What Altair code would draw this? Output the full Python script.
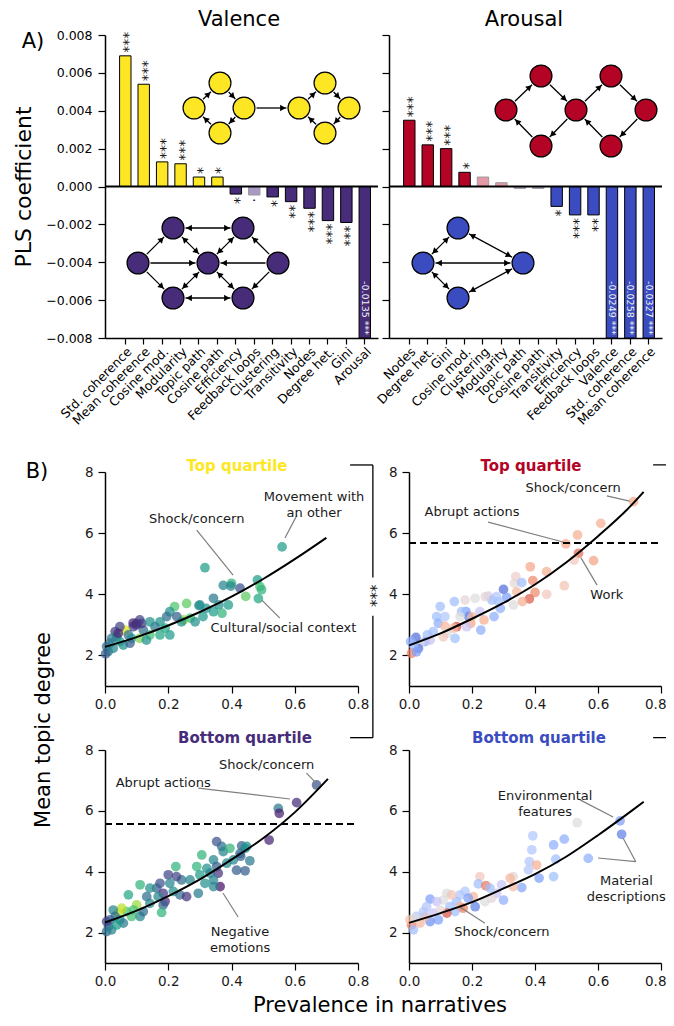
import math
import altair as alt
import pandas as pd

FONT = "DejaVu Sans"
INK = "#1a1a1a"
W, H = 658, 1010          # one drawing area; panels are placed through explicit scale ranges

# ---------------- Panel A: PLS coefficients ----------------
val_labels = ["Std. coherence", "Mean coherence", "Cosine mod.", "Modularity", "Topic path",
              "Cosine path", "Efficiency", "Feedback loops", "Clustering", "Transitivity",
              "Nodes", "Degree het.", "Gini", "Arousal"]
val_values = [0.0069, 0.0054, 0.0013, 0.0012, 0.0005, 0.0005, -0.0004, -0.00045,
              -0.00055, -0.0008, -0.00115, -0.0018, -0.0019, -0.0135]
val_sig = ["***", "***", "***", "***", "*", "*", "*", ".", "*", "**", "***", "***", "***", "***"]

aro_labels = ["Nodes", "Degree het.", "Gini", "Cosine mod.", "Clustering", "Modularity",
              "Topic path", "Cosine path", "Transitivity", "Efficiency", "Feedback loops",
              "Valence", "Std. coherence", "Mean coherence"]
aro_values = [0.0035, 0.0022, 0.0020, 0.00075, 0.0005, 0.0002, -0.0001, -0.0001,
              -0.00105, -0.0015, -0.0015, -0.0249, -0.0258, -0.0327]
aro_sig = ["***", "***", "***", "*", "", "", "", "", "*", "***", "**", "***", "***", "***"]

y_ticks = [-0.008, -0.006, -0.004, -0.002, 0.0, 0.002, 0.004, 0.006, 0.008]
Y_MIN, Y_MAX = -0.008, 0.008

VAL_POS, VAL_NEG, VAL_POS_F, VAL_NEG_F = "#FDE725", "#472C7A", "#FEF3A0", "#A99AC4"
ARO_POS, ARO_NEG, ARO_POS_F, ARO_NEG_F = "#B40426", "#3B4CC0", "#E39AA6", "#A7B0E2"

A_W, A_H = 273, 303

# schematic network diagrams (node positions inside a bar panel, y downward)
yellow_nodes = {"a1": (89, 73), "b1": (115, 48), "c1": (139, 73), "d1": (115, 98),
                "a2": (194, 73), "b2": (220, 48), "c2": (244, 73), "d2": (220, 98)}
yellow_edges = [("a1", "b1", 0), ("b1", "c1", 0), ("c1", "d1", 0), ("d1", "a1", 0),
                ("a2", "b2", 0), ("b2", "c2", 0), ("c2", "d2", 0), ("d2", "a2", 0),
                ("c1", "a2", 0)]
purple_nodes = {"tl": (68, 193), "tr": (138, 193), "l": (33, 228), "c": (103, 228),
                "r": (173, 228), "bl": (68, 263), "br": (138, 263)}
purple_edges = [("tl", "tr", 1), ("l", "tl", 0), ("l", "c", 0), ("l", "bl", 0),
                ("tl", "c", 1), ("tr", "c", 1), ("r", "tr", 0), ("r", "c", 0),
                ("r", "br", 0), ("bl", "c", 1), ("c", "br", 1), ("bl", "br", 1)]
red_nodes = {"a": (117, 75), "t1": (152, 41), "m": (187, 75), "b1": (152, 111),
             "t2": (222, 41), "z": (257, 75), "b2": (222, 111)}
red_edges = [("a", "t1", 0), ("t1", "m", 0), ("m", "b1", 0), ("b1", "a", 0),
             ("m", "t2", 0), ("t2", "z", 0), ("z", "b2", 0), ("b2", "m", 0)]
blue_nodes = {"t": (69, 193), "l": (34, 228), "r": (134, 228), "b": (69, 263)}
blue_edges = [("t", "l", 1), ("t", "r", 1), ("l", "r", 1), ("l", "b", 1), ("b", "r", 1)]

# ---------------- Panel B: scatter data ----------------
tl_x = [0.316, 0.374, 0.400, 0.427, 0.482, 0.490, 0.495, 0.485, 0.445, 0.390,
        0.360, 0.343, 0.300, 0.320, 0.258, 0.220, 0.205, 0.248, 0.270, 0.285,
        0.310, 0.343, 0.370, 0.195, 0.174, 0.190, 0.205, 0.174, 0.142, 0.158,
        0.121, 0.116, 0.100, 0.089, 0.110, 0.063, 0.047, 0.032, 0.037, 0.074,
        0.084, 0.110, 0.131, 0.047, 0.016, 0.005, 0.010, 0.002, 0.026, 0.058,
        0.079, 0.021, 0.042, 0.142, 0.227, 0.242, 0.560, 0.089, 0.100, 0.398,
        0.297]
tl_y = [4.87, 4.29, 4.36, 4.20, 4.47, 4.25, 4.15, 3.86, 3.93, 3.65,
        3.65, 3.87, 3.65, 3.54, 3.70, 3.60, 3.43, 3.16, 3.22, 3.10,
        3.27, 3.43, 3.38, 3.27, 3.10, 2.89, 2.67, 2.67, 2.67, 2.94,
        2.83, 3.05, 3.05, 2.94, 3.16, 2.83, 2.94, 2.78, 2.61, 2.67,
        2.56, 2.56, 2.50, 2.45, 2.40, 2.29, 2.13, 2.05, 2.23, 2.34,
        2.40, 2.56, 2.72, 3.10, 3.27, 3.10, 5.55, 3.06, 3.00, 4.27,
        3.63]
tl_c = [0.55, 0.45, 0.65, 0.25, 0.55, 0.70, 0.65, 0.60, 0.75, 0.55,
        0.50, 0.40, 0.45, 0.50, 0.75, 0.72, 0.50, 0.85, 0.70, 0.50,
        0.55, 0.55, 0.65, 0.35, 0.50, 0.60, 0.55, 0.60, 0.70, 0.40,
        0.35, 0.15, 0.12, 0.18, 0.20, 0.95, 0.20, 0.18, 0.45, 0.35,
        0.50, 0.80, 0.50, 0.50, 0.40, 0.35, 0.40, 0.30, 0.45, 0.50,
        0.30, 0.40, 0.10, 0.50, 0.30, 0.50, 0.55, 0.10, 0.15, 0.45,
        0.50]

tr_x = [0.713, 0.609, 0.535, 0.498, 0.538, 0.524, 0.586, 0.385, 0.437, 0.493,
        0.437, 0.393, 0.400, 0.382, 0.360, 0.339, 0.335, 0.358, 0.300, 0.332,
        0.342, 0.310, 0.284, 0.290, 0.270, 0.252, 0.263, 0.242, 0.278, 0.238,
        0.228, 0.178, 0.144, 0.181, 0.189, 0.167, 0.196, 0.183, 0.162, 0.151,
        0.141, 0.146, 0.099, 0.088, 0.114, 0.093, 0.114, 0.120, 0.109, 0.077,
        0.058, 0.051, 0.067, 0.035, 0.022, 0.030, 0.014, 0.008, 0.024, 0.005,
        0.210, 0.225, 0.200]
tr_y = [7.03, 6.32, 5.94, 5.65, 5.34, 5.12, 5.10, 4.90, 4.74, 4.28,
        4.00, 4.45, 4.06, 3.85, 3.76, 4.58, 4.36, 4.38, 4.16, 3.65,
        4.08, 3.90, 3.76, 3.54, 3.27, 3.94, 3.81, 3.92, 3.92, 3.16,
        2.83, 3.81, 3.76, 3.43, 3.27, 3.43, 3.05, 2.94, 3.27, 2.94,
        2.89, 2.56, 3.60, 3.27, 3.27, 3.05, 2.96, 2.72, 2.61, 2.78,
        2.67, 2.45, 2.50, 2.40, 2.59, 2.23, 2.34, 2.07, 2.12, 2.45,
        3.87, 3.43, 3.27]
tr_c = [0.70, 0.68, 0.68, 0.70, 0.85, 0.58, 0.72, 0.70, 0.68, 0.60,
        0.58, 0.78, 0.78, 0.88, 0.68, 0.55, 0.52, 0.35, 0.10, 0.50,
        0.65, 0.25, 0.35, 0.30, 0.30, 0.42, 0.35, 0.48, 0.38, 0.68,
        0.30, 0.48, 0.35, 0.25, 0.15, 0.35, 0.70, 0.40, 0.50, 0.90,
        0.62, 0.35, 0.35, 0.35, 0.38, 0.30, 0.65, 0.50, 0.58, 0.35,
        0.35, 0.30, 0.40, 0.50, 0.10, 0.12, 0.35, 0.80, 0.25, 0.30,
        0.50, 0.40, 0.65]

bl_x = [0.669, 0.606, 0.548, 0.551, 0.519, 0.353, 0.369, 0.374, 0.395, 0.427,
        0.432, 0.443, 0.448, 0.429, 0.416, 0.443, 0.458, 0.406, 0.385, 0.343,
        0.353, 0.306, 0.322, 0.290, 0.300, 0.332, 0.358, 0.343, 0.364, 0.343,
        0.316, 0.295, 0.269, 0.242, 0.224, 0.226, 0.200, 0.205, 0.216, 0.237,
        0.258, 0.174, 0.163, 0.184, 0.168, 0.190, 0.184, 0.179, 0.142, 0.111,
        0.074, 0.132, 0.142, 0.100, 0.090, 0.068, 0.053, 0.042, 0.084, 0.111,
        0.121, 0.026, 0.032, 0.016, 0.011, 0.005, 0.021, 0.047, 0.058, 0.005,
        0.037]
bl_y = [6.85, 6.27, 6.08, 5.92, 5.04, 4.99, 4.83, 4.66, 4.77, 4.60,
        4.85, 4.77, 4.83, 4.51, 4.05, 4.03, 4.36, 4.39, 4.28, 4.39,
        4.17, 4.55, 4.11, 4.17, 3.90, 3.95, 3.95, 3.73, 3.51, 3.51,
        3.62, 3.29, 3.73, 3.73, 4.17, 3.84, 3.90, 3.62, 3.35, 3.24,
        3.18, 3.62, 3.46, 3.29, 3.18, 3.02, 2.91, 2.66, 3.46, 3.57,
        3.24, 3.18, 2.96, 2.91, 2.74, 2.69, 2.80, 2.64, 2.53, 2.53,
        2.69, 2.74, 2.53, 2.42, 2.20, 2.03, 2.09, 2.42, 2.31, 2.36,
        2.25]
bl_c = [0.25, 0.12, 0.40, 0.08, 0.10, 0.25, 0.35, 0.45, 0.65, 0.35,
        0.30, 0.45, 0.50, 0.30, 0.30, 0.30, 0.40, 0.45, 0.45, 0.45,
        0.30, 0.65, 0.50, 0.65, 0.55, 0.45, 0.15, 0.45, 0.05, 0.45,
        0.50, 0.40, 0.45, 0.35, 0.65, 0.20, 0.20, 0.45, 0.50, 0.35,
        0.15, 0.25, 0.30, 0.15, 0.45, 0.12, 0.30, 0.65, 0.50, 0.65,
        0.60, 0.35, 0.45, 0.85, 0.70, 0.70, 0.90, 0.92, 0.70, 0.45,
        0.35, 0.45, 0.35, 0.30, 0.30, 0.35, 0.45, 0.50, 0.40, 0.20,
        0.55]

br_x = [0.670, 0.675, 0.569, 0.534, 0.393, 0.493, 0.459, 0.390, 0.466, 0.459,
        0.382, 0.405, 0.379, 0.413, 0.358, 0.331, 0.321, 0.331, 0.225, 0.220,
        0.244, 0.257, 0.278, 0.294, 0.300, 0.262, 0.241, 0.204, 0.178, 0.162,
        0.188, 0.210, 0.151, 0.120, 0.135, 0.109, 0.067, 0.088, 0.130, 0.162,
        0.172, 0.146, 0.120, 0.093, 0.067, 0.051, 0.035, 0.046, 0.077, 0.024,
        0.008, 0.014, 0.003, 0.019, 0.099, 0.056]
br_y = [5.67, 5.23, 4.44, 5.61, 5.18, 5.07, 4.88, 4.72, 4.41, 3.84,
        4.33, 4.22, 4.06, 3.79, 3.48, 3.84, 3.79, 3.51, 3.84, 3.60,
        3.54, 3.46, 3.29, 3.57, 3.07, 3.13, 3.02, 3.18, 3.35, 3.24,
        3.13, 2.85, 3.02, 3.29, 3.24, 3.07, 3.10, 3.02, 2.85, 2.85,
        2.80, 2.69, 2.64, 2.42, 2.36, 2.53, 2.31, 2.69, 2.64, 2.53,
        2.25, 2.09, 2.42, 2.47, 2.74, 2.85]
br_c = [0.25, 0.15, 0.30, 0.50, 0.38, 0.30, 0.30, 0.38, 0.35, 0.35,
        0.38, 0.68, 0.38, 0.25, 0.28, 0.48, 0.65, 0.65, 0.58, 0.35,
        0.82, 0.35, 0.40, 0.40, 0.30, 0.48, 0.50, 0.65, 0.38, 0.38,
        0.25, 0.15, 0.35, 0.50, 0.60, 0.50, 0.25, 0.40, 0.35, 0.65,
        0.80, 0.35, 0.90, 0.25, 0.20, 0.65, 0.65, 0.38, 0.40, 0.38,
        0.80, 0.35, 0.62, 0.50, 0.48, 0.38]

# fitted curves
tl_curve_x = [0.0, 0.1, 0.2, 0.3, 0.4, 0.5, 0.6, 0.7]
tl_curve_y = [2.28, 2.60, 2.98, 3.42, 3.92, 4.50, 5.15, 5.85]
tr_curve_x = [0.0, 0.1, 0.2, 0.3, 0.4, 0.5, 0.6, 0.7, 0.745]
tr_curve_y = [2.33, 2.72, 3.20, 3.72, 4.32, 5.05, 5.90, 6.85, 7.35]
bl_curve_x = [0.0, 0.1, 0.2, 0.3, 0.4, 0.5, 0.6, 0.705]
bl_curve_y = [2.33, 2.72, 3.20, 3.75, 4.40, 5.10, 5.95, 7.05]
br_curve_x = [0.0, 0.1, 0.2, 0.3, 0.4, 0.5, 0.6, 0.7, 0.745]
br_curve_y = [2.32, 2.64, 3.00, 3.45, 3.92, 4.50, 5.20, 5.95, 6.30]

tr_threshold = 5.68
bl_threshold = 5.57

# annotations: text, x, y   /   leader lines: x, y, x2, y2
tl_notes = [("Movement with\nan other", 0.661, 7.17), ("Shock/concern", 0.29, 6.46),
            ("Cultural/social context", 0.564, 2.90)]
tl_leaders = [(0.607, 6.59, 0.569, 5.84), (0.29, 6.10, 0.405, 4.63), (0.496, 3.81, 0.553, 3.22)]
tr_notes = [("Shock/concern", 0.521, 7.48), ("Abrupt actions", 0.20, 6.69), ("Work", 0.628, 3.98)]
tr_leaders = [(0.628, 7.22, 0.70, 7.05), (0.251, 6.36, 0.489, 5.71), (0.546, 5.19, 0.597, 4.30)]
bl_notes = [("Shock/concern", 0.511, 7.51), ("Abrupt actions", 0.184, 6.92),
            ("Negative\nemotions", 0.427, 2.02)]
bl_leaders = [(0.637, 7.24, 0.664, 6.95), (0.295, 6.75, 0.585, 6.39), (0.373, 3.30, 0.421, 2.51)]
br_notes = [("Environmental\nfeatures", 0.432, 6.48), ("Material\ndescriptions", 0.69, 3.70),
            ("Shock/concern", 0.295, 2.02)]
br_leaders = [(0.543, 6.36, 0.648, 5.80), (0.72, 4.33, 0.68, 5.10), (0.72, 4.33, 0.60, 4.45),
              (0.241, 2.31, 0.162, 2.84)]

# significance bracket between the two valence panels (data units of the top-left panel)
bracket_x = [0.775, 0.847]
bracket_top, bracket_bottom = 8.23, -0.69
bracket_gap = (4.55, 3.30)
bracket_star_y = 3.95

# ---------------- panel frames inside the drawing area (pixels) ----------------
A_LEFT_X = [97, 370]
A_RIGHT_X = [381, 654]
A_Y = [330, 27]
B_LEFT_X = [97, 350]
B_RIGHT_X = [401, 653]
B_TOP_Y = [678, 464]
B_BOT_Y = [955, 742]


# ======================= builders =======================
def network_layers(nodes, edges, color, xr):
    R, HD = 12.5, 3.6
    nx_scale = alt.Scale(domain=[0, A_W], range=xr, nice=False, zero=False)
    ny_scale = alt.Scale(domain=[0, A_H], range=[A_Y[1], A_Y[0]], nice=False, zero=False)
    seg = {"nx": [], "ny": [], "nx2": [], "ny2": []}
    head = {"nx": [], "ny": [], "ang": []}
    for s, t, both in edges:
        x1, y1 = nodes[s]
        x2, y2 = nodes[t]
        d = math.hypot(x2 - x1, y2 - y1)
        ux, uy = (x2 - x1) / d, (y2 - y1) / d
        seg["nx"].append(x1 + ux * R)
        seg["ny"].append(y1 + uy * R)
        seg["nx2"].append(x2 - ux * R)
        seg["ny2"].append(y2 - uy * R)
        head["nx"].append(x2 - ux * (R + HD))
        head["ny"].append(y2 - uy * (R + HD))
        head["ang"].append(math.degrees(math.atan2(ux, -uy)) % 360)
        if both:
            head["nx"].append(x1 + ux * (R + HD))
            head["ny"].append(y1 + uy * (R + HD))
            head["ang"].append(math.degrees(math.atan2(-ux, uy)) % 360)
    node_df = pd.DataFrame({"nx": [p[0] for p in nodes.values()],
                            "ny": [p[1] for p in nodes.values()]})
    NX = alt.X("nx:Q", scale=nx_scale, axis=None)
    NY = alt.Y("ny:Q", scale=ny_scale, axis=None)
    lines = alt.Chart(pd.DataFrame(seg)).mark_rule(color="black", strokeWidth=1.3).encode(
        x=NX, y=NY, x2="nx2:Q", y2="ny2:Q")
    heads = alt.Chart(pd.DataFrame(head)).mark_point(
        shape="triangle-up", filled=True, color="black", size=42, opacity=1).encode(
        x=NX, y=NY, angle=alt.Angle("ang:Q", scale=None))
    circles = alt.Chart(node_df).mark_circle(
        size=480, color=color, stroke="black", strokeWidth=1.2, opacity=1).encode(x=NX, y=NY)
    return [lines, heads, circles]


def bar_panel(labels, values, sig, cols, xr, left, nets):
    pos_c, neg_c, pos_f, neg_f = cols
    df = pd.DataFrame({"label": labels, "value": values, "sig": sig})
    faded = df["sig"].isin(["", "."])
    df["fill"] = [(pos_f if v > 0 else neg_f) if f else (pos_c if v > 0 else neg_c)
                  for v, f in zip(df["value"], faded)]
    df["stroke"] = ["#9a9a9a" if f else "black" for f in faded]
    df["clipped"] = df["value"] < Y_MIN
    df["cliptext"] = [f"{v:.4f} {s}" for v, s in zip(df["value"], df["sig"])]

    xsc = alt.Scale(domain=labels, range=xr, paddingInner=0.38, paddingOuter=0.6, align=0.66)
    ysc = alt.Scale(domain=[Y_MIN, Y_MAX], range=A_Y, nice=False, clamp=True)
    xaxis = alt.Axis(title=None, orient="bottom", offset=A_Y[0] - H, labelAngle=-45,
                     labelAlign="right", labelBaseline="top", labelFontSize=12.5, tickSize=6,
                     labelPadding=1, domainWidth=1.5, tickWidth=1.2, bandPosition=0.5,
                     labelOverlap=False, labelColor="black")
    if left:
        yaxis = alt.Axis(title="PLS coefficient", orient="left", offset=-xr[0], values=y_ticks,
                         format=".3f", tickSize=7, labelPadding=6, labelFontSize=12.5,
                         titleFontSize=22, titleFontWeight="normal", titlePadding=10,
                         domainWidth=1.5, tickWidth=1.2, labelOverlap=False, labelColor="black")
    else:
        yaxis = alt.Axis(title=None, orient="left", offset=-xr[0], values=y_ticks, labels=False,
                         tickSize=7, domainWidth=1.5, tickWidth=1.2)
    X = alt.X("label:N", scale=xsc, axis=xaxis)
    Y = alt.Y("value:Q", scale=ysc, axis=yaxis)
    layers = [
        alt.Chart(df).mark_bar(strokeWidth=1).encode(
            x=X, y=Y, fill=alt.Fill("fill:N", scale=None), stroke=alt.Stroke("stroke:N", scale=None)),
        alt.Chart(pd.DataFrame({"label": [labels[0]], "value": [0.0]})).mark_rule(
            color="black", strokeWidth=1.8).encode(
            x=alt.value(xr[0]), x2=alt.value(xr[1]), y=Y),
    ]
    pos = df[(df["value"] > 0) & (df["sig"] != "")]
    neg = df[(df["value"] < 0) & df["sig"].isin(["*", "**", "***"]) & (~df["clipped"])]
    dots = df[df["sig"] == "."]
    clip = df[df["clipped"]]
    layers.append(alt.Chart(pos).mark_text(angle=270, align="left", baseline="middle", dx=3,
                                            dy=4, fontSize=14, color=INK).encode(
        x=X, y=Y, text="sig:N"))
    if len(neg):
        layers.append(alt.Chart(neg).mark_text(angle=270, align="right", baseline="middle",
                                                dx=-3, dy=4, fontSize=14, color=INK).encode(
            x=X, y=Y, text="sig:N"))
    if len(dots):
        layers.append(alt.Chart(dots).mark_text(angle=270, align="right", baseline="middle",
                                                 dx=-3, dy=-3, fontSize=14, color=INK).encode(
            x=X, y=Y, text="sig:N"))
    if len(clip):
        layers.append(alt.Chart(clip).mark_text(angle=90, align="right", baseline="middle",
                                                 dx=-3, fontSize=9.5, color="#f2f2f2").encode(
            x=X, y=Y, text="cliptext:N"))
    net = []
    for n in nets:
        net += network_layers(*n, xr)
    return alt.layer(alt.layer(*layers), alt.layer(*net)).resolve_scale(
        x="independent", y="independent")


VIRIDIS = alt.Scale(scheme="viridis", domain=[0, 1])
COOLWARM = alt.Scale(domain=[0, 0.125, 0.25, 0.375, 0.5, 0.625, 0.75, 0.875, 1.0],
                     range=["#3b4cc0", "#5977e3", "#7b9ff9", "#a9c6fd", "#dddcdc",
                            "#f5bfa5", "#f4987a", "#de604d", "#b40426"])


def scatter_panel(xs, ys, cs, cscale, cx, cy, notes, leaders, xr, yr, threshold=None,
                  extra=None, edge=False):
    SX = alt.Scale(domain=[0, 0.8], range=xr, nice=False, zero=False)
    SY = alt.Scale(domain=[1, 8], range=yr, nice=False, zero=False)
    xkw = {}
    if edge:   # keep the last tick label inside the drawing area
        xkw = {"labelAlign": alt.condition("datum.value >= 0.79", alt.value("right"), alt.value("center")),
               "labelOffset": alt.condition("datum.value >= 0.79", alt.value(5), alt.value(0))}
    xaxis = alt.Axis(values=[0, 0.2, 0.4, 0.6, 0.8], format=".1f", title=None, orient="bottom",
                     offset=yr[0] - H, tickSize=7, labelPadding=4, labelFontSize=13.5,
                     domainWidth=1.5, tickWidth=1.2, labelFlush=False, labelOverlap=False,
                     labelColor=INK, **xkw)
    yaxis = alt.Axis(values=[2, 4, 6, 8], format="d", title=None, orient="left", offset=-xr[0],
                     tickSize=7, labelPadding=5, labelFontSize=13.5, domainWidth=1.5,
                     tickWidth=1.2, labelOverlap=False, labelColor=INK)
    X = alt.X("x:Q", scale=SX, axis=xaxis)
    Y = alt.Y("y:Q", scale=SY, axis=yaxis)
    pts = alt.Chart(pd.DataFrame({"x": xs, "y": ys, "c": cs})).mark_circle(
        size=95, opacity=0.72).encode(x=X, y=Y, color=alt.Color("c:Q", scale=cscale, legend=None))
    lead = alt.Chart(pd.DataFrame(leaders, columns=["x", "y", "x2", "y2"])).mark_rule(
        color="#7f7f7f", strokeWidth=1.2).encode(x=X, y=Y, x2="x2:Q", y2="y2:Q")
    curve = alt.Chart(pd.DataFrame({"x": cx, "y": cy})).mark_line(
        color="black", strokeWidth=2, interpolate="monotone").encode(x=X, y=Y)
    txt = alt.Chart(pd.DataFrame(notes, columns=["t", "x", "y"])).mark_text(
        fontSize=13, lineBreak="\n", lineHeight=16, color=INK, baseline="middle").encode(
        x=X, y=Y, text="t:N")
    layers = [pts, lead, curve]
    if threshold is not None:
        layers.append(alt.Chart(pd.DataFrame({"x": [0.0], "x2": [0.8], "y": [threshold]})).mark_rule(
            color="black", strokeWidth=2, strokeDash=[7, 4]).encode(x=X, x2="x2:Q", y=Y))
    layers.append(txt)
    if extra is not None:
        layers += extra(X, Y)
    return alt.layer(*layers)


def free_text(text, px, py, size, angle=0, bold=False, color="black", baseline="middle"):
    return alt.Chart(pd.DataFrame({"t": [text]})).mark_text(
        fontSize=size, angle=angle, baseline=baseline, align="center", color=color,
        fontWeight="bold" if bold else "normal").encode(
        x=alt.value(px), y=alt.value(py), text="t:N")


def tl_extra(X, Y):
    bdf = pd.DataFrame({
        "x": [bracket_x[0], bracket_x[1], bracket_x[1], bracket_x[0]],
        "x2": [bracket_x[1], bracket_x[1], bracket_x[1], bracket_x[1]],
        "y": [bracket_top, bracket_top, bracket_gap[1], bracket_bottom],
        "y2": [bracket_top, bracket_gap[0], bracket_bottom, bracket_bottom]})
    br = alt.Chart(bdf).mark_rule(color="black", strokeWidth=1.3).encode(
        x=X, x2="x2:Q", y=Y, y2="y2:Q")
    st = alt.Chart(pd.DataFrame({"x": [bracket_x[1]], "y": [bracket_star_y], "t": ["***"]})).mark_text(
        angle=270, fontSize=15, baseline="middle", align="center", dy=4, color=INK).encode(
        x=X, y=Y, text="t:N")
    return [br, st]


def tr_extra(X, Y):
    edf = pd.DataFrame({"x": [0.775, 0.775], "x2": [0.9, 0.9],
                        "y": [bracket_top, bracket_bottom], "y2": [bracket_top, bracket_bottom]})
    return [alt.Chart(edf).mark_rule(color="black", strokeWidth=1.3).encode(
        x=X, x2="x2:Q", y=Y, y2="y2:Q")]


# ---- panel A ----
a_left = bar_panel(val_labels, val_values, val_sig, (VAL_POS, VAL_NEG, VAL_POS_F, VAL_NEG_F),
                   A_LEFT_X, True,
                   [(yellow_nodes, yellow_edges, VAL_POS), (purple_nodes, purple_edges, VAL_NEG)])
a_right = bar_panel(aro_labels, aro_values, aro_sig, (ARO_POS, ARO_NEG, ARO_POS_F, ARO_NEG_F),
                    A_RIGHT_X, False,
                    [(red_nodes, red_edges, ARO_POS), (blue_nodes, blue_edges, ARO_NEG)])

# ---- panel B ----
s_tl = scatter_panel(tl_x, tl_y, tl_c, VIRIDIS, tl_curve_x, tl_curve_y, tl_notes, tl_leaders,
                     B_LEFT_X, B_TOP_Y, extra=tl_extra)
s_tr = scatter_panel(tr_x, tr_y, tr_c, COOLWARM, tr_curve_x, tr_curve_y, tr_notes, tr_leaders,
                     B_RIGHT_X, B_TOP_Y, threshold=tr_threshold, extra=tr_extra, edge=True)
s_bl = scatter_panel(bl_x, bl_y, bl_c, VIRIDIS, bl_curve_x, bl_curve_y, bl_notes, bl_leaders,
                     B_LEFT_X, B_BOT_Y, threshold=bl_threshold)
s_br = scatter_panel(br_x, br_y, br_c, COOLWARM, br_curve_x, br_curve_y, br_notes, br_leaders,
                     B_RIGHT_X, B_BOT_Y, edge=True)

texts = [
    free_text("Valence", 231, 18, 21, baseline="alphabetic"),
    free_text("Arousal", 516, 18, 21, baseline="alphabetic"),
    free_text("A)", 25, 34, 21),
    free_text("B)", 29, 464, 21),
    free_text("Top quartile", 229, 463, 15, bold=True, color=VAL_POS, baseline="alphabetic"),
    free_text("Top quartile", 523, 463, 15, bold=True, color=ARO_POS, baseline="alphabetic"),
    free_text("Bottom quartile", 237, 735, 15, bold=True, color=VAL_NEG, baseline="alphabetic"),
    free_text("Bottom quartile", 531, 735, 15, bold=True, color=ARO_NEG, baseline="alphabetic"),
    free_text("Mean topic degree", 36, 722, 21, angle=270),
    free_text("Prevalence in narratives", 372, 998, 21),
]

chart = alt.layer(a_left, a_right, s_tl, s_tr, s_bl, s_br, *texts).resolve_scale(
    x="independent", y="independent", color="independent"
).properties(
    width=W, height=H, autosize=alt.AutoSizeParams(type="none"), padding=0, background="white"
).configure(font=FONT).configure_view(stroke=None).configure_axis(
    grid=False, domainColor="black", tickColor="black", labelColor="black", titleColor="black",
    labelFont=FONT, titleFont=FONT)

chart.save("out.html", embed_options={"renderer": "svg", "actions": False})
